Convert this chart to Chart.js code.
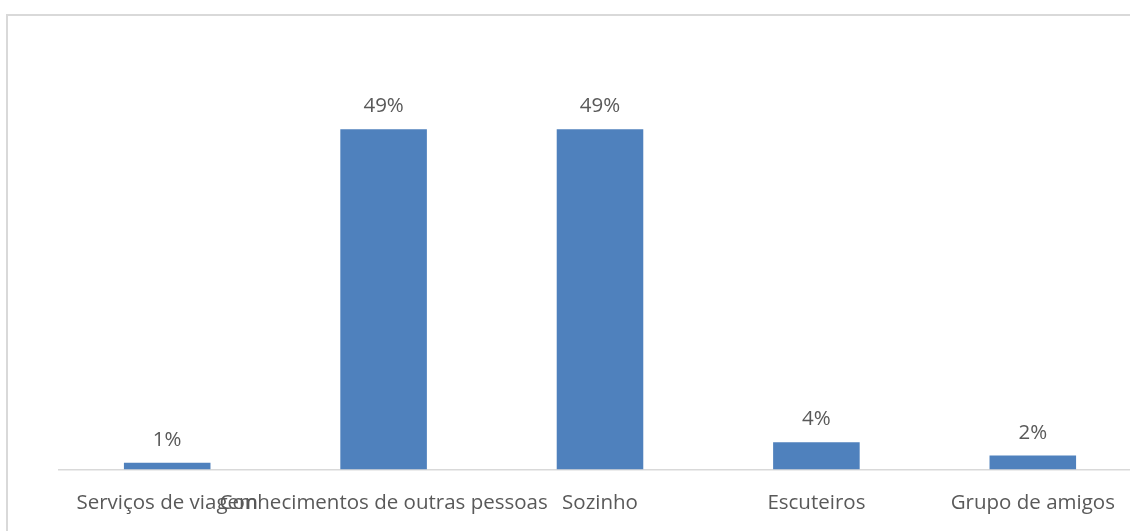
<!DOCTYPE html>
<html>
<head>
<meta charset="utf-8">
<script src="https://cdn.jsdelivr.net/npm/chart.js@4.4.1/dist/chart.umd.min.js"></script>
<style>
  html, body { margin: 0; padding: 0; background: #fff; overflow: hidden; width: 1130px; height: 531px; }
  #frame { position: absolute; left: 6px; top: 14px; width: 1200px; height: 600px; border: 2px solid #d9d9d9; box-sizing: border-box; }
  #wrap { position: absolute; left: 0; top: 0; width: 1200px; height: 560px; }
</style>
</head>
<body>
<div id="frame"></div>
<div id="wrap"><canvas id="c" width="1200" height="560"></canvas></div>
<script>
const categories = ["Serviços de viagem", "Conhecimentos de outras pessoas", "Sozinho", "Escuteiros", "Grupo de amigos"];
const values = [0.95, 49, 49, 3.9, 2];
const valueLabels = ["1%", "49%", "49%", "4%", "2%"];

const FONT = "'Open Sans', 'Liberation Sans', sans-serif";
const TEXT = "#595959";

const barLabels = {
  id: 'barLabels',
  afterDatasetsDraw(chart) {
    const ctx = chart.ctx;
    const meta = chart.getDatasetMeta(0);
    ctx.save();
    ctx.font = "20.5px " + FONT;
    ctx.fillStyle = TEXT;
    ctx.textAlign = "center";
    ctx.textBaseline = "alphabetic";
    meta.data.forEach((bar, i) => {
      ctx.fillText(valueLabels[i], bar.x, bar.y - 17);
    });
    ctx.restore();
  }
};

new Chart(document.getElementById('c'), {
  type: 'bar',
  data: {
    labels: categories,
    datasets: [{
      data: values,
      backgroundColor: '#4F81BD',
      borderWidth: 0,
      barPercentage: 0.4,
      categoryPercentage: 1.0
    }]
  },
  options: {
    responsive: false,
    animation: false,
    devicePixelRatio: 1,
    layout: { padding: { left: 59, right: 59, top: 53, bottom: 24 } },
    plugins: { legend: { display: false }, tooltip: { enabled: false } },
    scales: {
      y: { display: false, min: 0, max: 60 },
      x: {
        grid: { display: false, drawTicks: false },
        border: { display: true, color: '#d9d9d9', width: 1.5 },
        ticks: {
          autoSkip: false, maxRotation: 0, minRotation: 0,
          padding: 21,
          color: TEXT,
          font: { family: FONT, size: 20.5 }
        }
      }
    }
  },
  plugins: [barLabels]
});
</script>
</body>
</html>
